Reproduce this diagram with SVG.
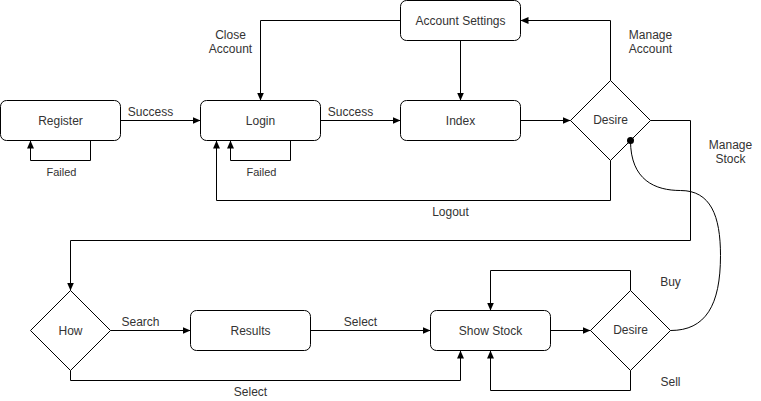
<svg xmlns="http://www.w3.org/2000/svg" width="761" height="401" viewBox="0 0 761 401">
<style>
.box{fill:#fff;stroke:#000;stroke-width:1}
.t{font-family:"Liberation Sans",Arial,sans-serif;font-size:12px;fill:#333;text-anchor:middle}
.s{font-size:11px}
.e{fill:none;stroke:#000;stroke-width:1}
</style>
<defs>
<marker id="arr" viewBox="0 0 8 7" refX="8" refY="3.5" markerWidth="8" markerHeight="7" orient="auto" markerUnits="userSpaceOnUse">
<path d="M0,0 L8,3.5 L0,7 Z" fill="#000"/>
</marker>
</defs>
<rect width="761" height="401" fill="#fff"/>
<g transform="translate(0.5,0.5)">
<g id="register"><rect class="box" x="0" y="100" width="120" height="40" rx="6"/><text class="t" x="60" y="124">Register</text></g>
<g id="login"><rect class="box" x="200" y="100" width="120" height="40" rx="6"/><text class="t" x="260" y="124">Login</text></g>
<g id="index"><rect class="box" x="400" y="100" width="120" height="40" rx="6"/><text class="t" x="460" y="124">Index</text></g>
<g id="account-settings"><rect class="box" x="400" y="0" width="120" height="40" rx="6"/><text class="t" x="460" y="24">Account Settings</text></g>
<g id="desire1"><path class="box" d="M610 80 L650 120 L610 160 L570 120 Z"/><text class="t" x="610" y="123">Desire</text></g>
<g id="how"><path class="box" d="M70 290 L110 330 L70 370 L30 330 Z"/><text class="t" x="70" y="334">How</text></g>
<g id="results"><rect class="box" x="190" y="310" width="120" height="40" rx="6"/><text class="t" x="250" y="334">Results</text></g>
<g id="show-stock"><rect class="box" x="430" y="310" width="120" height="40" rx="6"/><text class="t" x="490" y="334">Show Stock</text></g>
<g id="desire2"><path class="box" d="M630 290 L670 330 L630 370 L590 330 Z"/><text class="t" x="630" y="333">Desire</text></g>
<g id="connectors">
<path class="e" d="M120 120 H200" marker-end="url(#arr)"/>
<path class="e" d="M90 140 V160 H30 V140" marker-end="url(#arr)"/>
<path class="e" d="M290 140 V160 H230 V140" marker-end="url(#arr)"/>
<path class="e" d="M320 120 H400" marker-end="url(#arr)"/>
<path class="e" d="M520 120 H570" marker-end="url(#arr)"/>
<path class="e" d="M610 80 V20 H520" marker-end="url(#arr)"/>
<path class="e" d="M400 20 H260 V100" marker-end="url(#arr)"/>
<path class="e" d="M460 40 V100" marker-end="url(#arr)"/>
<path class="e" d="M610 160 V200 H216 V140" marker-end="url(#arr)"/>
<path class="e" d="M650 120 H690 V240 H70 V290" marker-end="url(#arr)"/>
<path class="e" d="M110 330 H190" marker-end="url(#arr)"/>
<path class="e" d="M310 330 H430" marker-end="url(#arr)"/>
<path class="e" d="M70 370 V380 H460 V350" marker-end="url(#arr)"/>
<path class="e" d="M550 330 H590" marker-end="url(#arr)"/>
<path class="e" d="M630 290 V270 H490 V310" marker-end="url(#arr)"/>
<path class="e" d="M630 370 V390 H490 V350" marker-end="url(#arr)"/>
<path class="e" d="M630 140 C630 180 655 190 680 190 C710 190 720 215 720 255 C720 305 705 330 670 330"/>
<circle cx="630" cy="140" r="3.5" fill="#000"/>
<text class="t" x="150" y="115">Success</text>
<text class="t" x="350" y="115">Success</text>
<text class="t s" x="61" y="175">Failed</text>
<text class="t s" x="261" y="175">Failed</text>
<text class="t" x="230" y="38">Close</text>
<text class="t" x="230" y="52">Account</text>
<text class="t" x="650" y="38">Manage</text>
<text class="t" x="650" y="52">Account</text>
<text class="t" x="730" y="148">Manage</text>
<text class="t" x="730" y="162">Stock</text>
<text class="t" x="450" y="215">Logout</text>
<text class="t" x="140" y="325">Search</text>
<text class="t" x="360" y="325">Select</text>
<text class="t" x="250" y="395">Select</text>
<text class="t" x="670" y="285">Buy</text>
<text class="t" x="670" y="385">Sell</text>
</g>
</g>
</svg>
